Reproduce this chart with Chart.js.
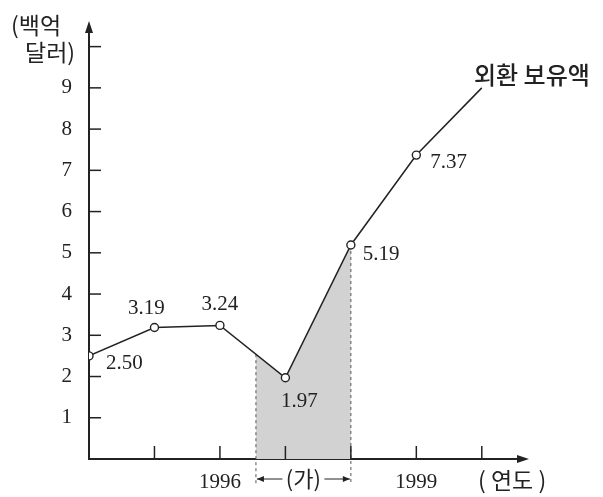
<!DOCTYPE html>
<html>
<head>
<meta charset="utf-8">
<script src="https://cdn.jsdelivr.net/npm/chart.js@4.4.1/dist/chart.umd.min.js"></script>
<style>
    body { margin: 0; background: #fff; }
</style>
</head>
<body>
<canvas id="mycanvas_reserve" width="603" height="497"></canvas>
<script>
var years = [1994, 1995, 1996, 1997, 1998, 1999, 2000];
var reserves = [2.50, 3.19, 3.24, 1.97, 5.19, 7.37, 9.0];
var pointText = ['2.50', '3.19', '3.24', '1.97', '5.19', '7.37', ''];
var yearLabels = [1996, 1999];
var yTickLabels = [1, 2, 3, 4, 5, 6, 7, 8, 9];
var shadeFrom = 1996.55;
var shadeTo = 1998;

var serif = '"Liberation Serif", "DejaVu Serif", serif';
var korean = '"Noto Sans CJK KR", sans-serif';
var ink = '#222';

// where each value label sits relative to its point
var labelPos = [
    {dx: 17, dy: 8, align: 'left'},
    {dx: -8, dy: -19, align: 'center'},
    {dx: 0, dy: -21, align: 'center'},
    {dx: 14, dy: 24, align: 'center'},
    {dx: 12, dy: 10, align: 'left'},
    {dx: 14, dy: 7, align: 'left'},
    {dx: 0, dy: 0, align: 'left'}
];

function lineYAt(meta, px) {
    var pts = meta.data;
    for (var i = 0; i < pts.length - 1; i++) {
        if (px >= pts[i].x && px <= pts[i + 1].x) {
            var t = (px - pts[i].x) / (pts[i + 1].x - pts[i].x);
            return pts[i].y + t * (pts[i + 1].y - pts[i].y);
        }
    }
    return pts[pts.length - 1].y;
}

var decorations = {
    id: 'decorations',
    beforeDatasetsDraw: function (chart) {
        var ctx = chart.ctx;
        var xs = chart.scales.x, ys = chart.scales.y;
        var meta = chart.getDatasetMeta(0);
        var x0 = xs.getPixelForValue(shadeFrom);
        var x1 = xs.getPixelForValue(shadeTo);
        var base = ys.getPixelForValue(0);
        ctx.save();
        ctx.beginPath();
        ctx.rect(x0, 0, x1 - x0, base);
        ctx.clip();
        ctx.beginPath();
        ctx.moveTo(meta.data[0].x, base);
        meta.data.forEach(function (p) { ctx.lineTo(p.x, p.y); });
        ctx.lineTo(meta.data[meta.data.length - 1].x, base);
        ctx.closePath();
        ctx.fillStyle = '#d2d2d2';
        ctx.fill();
        ctx.restore();

        // dashed borders of the shaded part
        ctx.save();
        ctx.strokeStyle = '#555';
        ctx.lineWidth = 1;
        ctx.setLineDash([3, 3]);
        [x0, x1].forEach(function (px) {
            ctx.beginPath();
            ctx.moveTo(px, lineYAt(meta, px));
            ctx.lineTo(px, base + 25);
            ctx.stroke();
        });
        ctx.restore();
    },
    afterDatasetsDraw: function (chart) {
        var ctx = chart.ctx;
        var xs = chart.scales.x, ys = chart.scales.y;
        var area = chart.chartArea;
        var base = ys.getPixelForValue(0);
        var meta = chart.getDatasetMeta(1);

        ctx.save();
        ctx.strokeStyle = ink;
        ctx.fillStyle = ink;
        ctx.lineWidth = 1.5;
        // tick marks pointing inwards
        for (var v = 1; v <= 10; v++) {
            var py = ys.getPixelForValue(v);
            ctx.beginPath();
            ctx.moveTo(area.left, py);
            ctx.lineTo(area.left + 12, py);
            ctx.stroke();
        }
        for (var y = 1995; y <= 2000; y++) {
            var px = xs.getPixelForValue(y);
            ctx.beginPath();
            ctx.moveTo(px, base);
            ctx.lineTo(px, base - 13);
            ctx.stroke();
        }
        // axis arrow heads
        ctx.beginPath();
        ctx.moveTo(area.left, area.top - 5);
        ctx.lineTo(area.left - 4, area.top + 7);
        ctx.lineTo(area.left + 4, area.top + 7);
        ctx.closePath();
        ctx.fill();
        ctx.beginPath();
        ctx.moveTo(area.right + 4, base);
        ctx.lineTo(area.right - 8, base - 4);
        ctx.lineTo(area.right - 8, base + 4);
        ctx.closePath();
        ctx.fill();

        // value labels
        ctx.font = '21px ' + serif;
        ctx.textBaseline = 'middle';
        meta.data.forEach(function (p, i) {
            if (!pointText[i]) return;
            ctx.textAlign = labelPos[i].align;
            ctx.fillText(pointText[i], p.x + labelPos[i].dx, p.y + labelPos[i].dy);
        });

        // (가) span marker
        var x0 = xs.getPixelForValue(shadeFrom);
        var x1 = xs.getPixelForValue(shadeTo);
        var mid = (x0 + x1) / 2;
        var ly = base + 20;
        ctx.font = '22px ' + korean;
        ctx.textAlign = 'center';
        ctx.fillText('(가)', mid, ly);
        ctx.lineWidth = 1;
        ctx.beginPath();
        ctx.moveTo(mid - 21, ly); ctx.lineTo(x0 + 1, ly);
        ctx.moveTo(mid + 21, ly); ctx.lineTo(x1 - 1, ly);
        ctx.stroke();
        ctx.beginPath();
        ctx.moveTo(x0 + 1, ly); ctx.lineTo(x0 + 8, ly - 3); ctx.lineTo(x0 + 8, ly + 3); ctx.closePath();
        ctx.moveTo(x1 - 1, ly); ctx.lineTo(x1 - 8, ly - 3); ctx.lineTo(x1 - 8, ly + 3); ctx.closePath();
        ctx.fill();

        // titles
        ctx.font = '500 24px ' + korean;
        ctx.textAlign = 'left';
        ctx.fillText('외환 보유액', 474, 75);
        ctx.font = '23px ' + korean;
        ctx.fillText('(백억', 11, 25);
        ctx.fillText('달러)', 25, 52);
        ctx.fillText('( 연도 )', 478, 480);
        ctx.restore();
    }
};

var ctx_reserve = document.getElementById('mycanvas_reserve').getContext('2d');
var myChart_reserve = new Chart(ctx_reserve, {
    type: 'line',
    data: {
        datasets: [{
            label: 'shade',
            data: years.map(function (y, i) { return {x: y, y: reserves[i]}; }),
            borderWidth: 0,
            pointRadius: 0,
            showLine: false
        }, {
            label: '외환 보유액',
            data: years.map(function (y, i) { return {x: y, y: reserves[i]}; }),
            borderColor: ink,
            borderWidth: 1.5,
            tension: 0,
            fill: false,
            pointRadius: reserves.map(function (v, i) { return pointText[i] ? 4 : 0; }),
            pointBackgroundColor: '#fff',
            pointBorderColor: ink,
            pointBorderWidth: 1.4
        }]
    },
    options: {
        responsive: false,
        animation: false,
        layout: {padding: {top: 26, right: 78, left: 0, bottom: 0}},
        plugins: {
            legend: {display: false},
            tooltip: {enabled: false}
        },
        scales: {
            x: {
                type: 'linear',
                min: 1994,
                max: 2000.66,
                afterFit: function (s) { s.height = 38; },
                grid: {display: false},
                border: {display: true, color: ink, width: 2},
                ticks: {
                    stepSize: 1,
                    autoSkip: false,
                    maxRotation: 0,
                    padding: 3,
                    color: ink,
                    font: {family: serif, size: 21},
                    callback: function (v) { return yearLabels.indexOf(v) >= 0 ? String(v) : ''; }
                }
            },
            y: {
                min: 0,
                max: 10.5,
                afterFit: function (s) { s.width = 89; },
                grid: {display: false},
                border: {display: true, color: ink, width: 2},
                ticks: {
                    stepSize: 1,
                    padding: 9,
                    color: ink,
                    font: {family: serif, size: 21},
                    callback: function (v) { return yTickLabels.indexOf(v) >= 0 ? String(v) : ''; }
                }
            }
        }
    },
    plugins: [decorations]
});
</script>
</body>
</html>
